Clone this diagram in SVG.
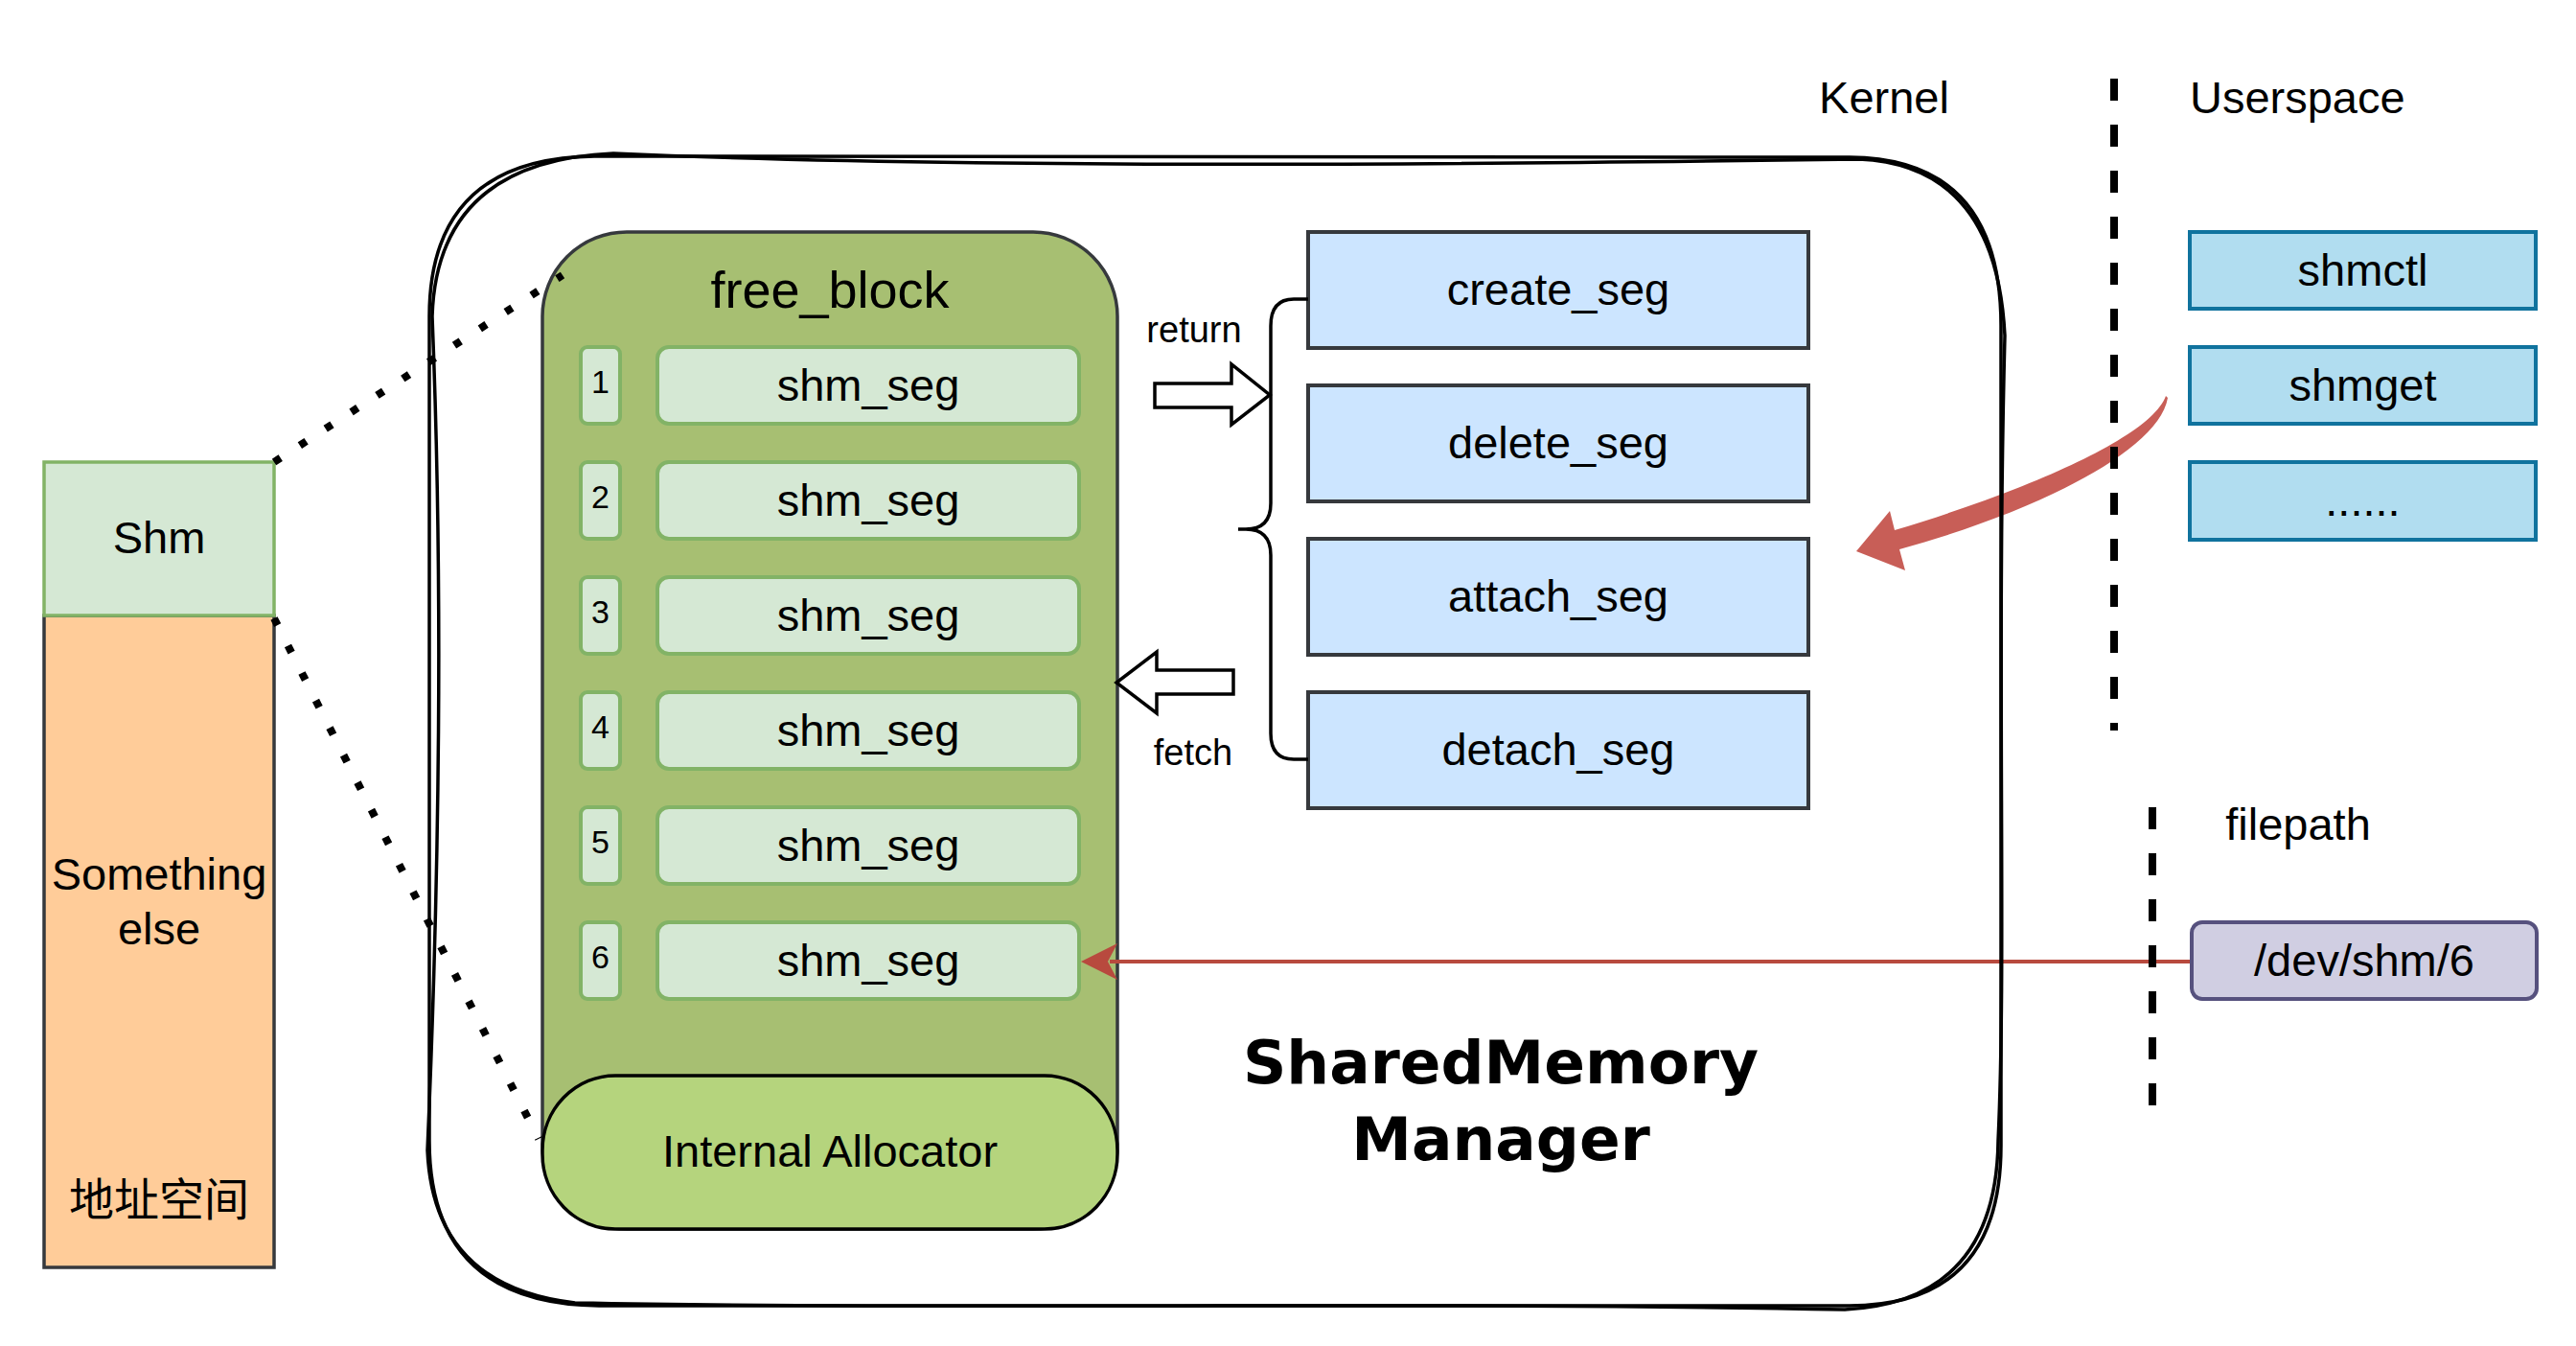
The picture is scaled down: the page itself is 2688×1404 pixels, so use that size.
<svg xmlns="http://www.w3.org/2000/svg" width="2688" height="1404" viewBox="0 0 2688 1404">
<style>
text{font-family:"Liberation Sans",Arial,"Noto Sans CJK SC",sans-serif;fill:#000}
.t47{font-size:47px}
.t38{font-size:38px}
.c{text-anchor:middle}
.seg{fill:#d5e8d4;stroke:#82b366;stroke-width:4}
.kbox{fill:#cce5ff;stroke:#36393d;stroke-width:4}
.ubox{fill:#b1ddf0;stroke:#10739e;stroke-width:4}
.sketch{fill:none;stroke:#000;stroke-width:3.5;stroke-linejoin:round}
.dots{fill:none;stroke:#000;stroke-width:8;stroke-dasharray:8 24}
.dash{fill:none;stroke:#000;stroke-width:8;stroke-dasharray:23 25}
.hollow{fill:#fff;stroke:#000;stroke-width:3.5;stroke-linejoin:miter}
</style>
<rect width="2688" height="1404" fill="#fff"/>

<g id="connectors-under">
  <path id="red-curve" d="M2260,413 C2245,455 2120,510 1977,553 L1972,533 L1937,575 L1988,595 L1982,573 C2120,535 2252,472 2262,415 Z" fill="#c85e57"/>
</g>

<g id="address-space">
  <rect x="46" y="642" width="240" height="680" fill="#ffcc99" stroke="#36393d" stroke-width="3.5"/>
  <text x="166" y="928" class="t47 c">Something</text>
  <text x="166" y="985" class="t47 c">else</text>
  <text x="166" y="1268" class="t47 c">地址空间</text>
</g>
<g id="shm">
  <rect x="46" y="482" width="240" height="160" fill="#d5e8d4" stroke="#82b366" stroke-width="3.5"/>
  <text x="166" y="577" class="t47 c">Shm</text>
</g>

<g id="free_block">
  <rect x="566" y="242" width="600" height="1040" rx="88" ry="88" fill="#a7bf72" stroke="#36393d" stroke-width="3.5"/>
  <text x="866" y="321" class="c" style="font-size:54px">free_block</text>
</g>

<g id="segments">
  <g id="seg1"><rect class="seg" x="606" y="362" width="41" height="80" rx="7"/><text x="626.5" y="410" class="c" style="font-size:34px">1</text><rect class="seg" x="686" y="362" width="440" height="80" rx="12"/><text x="906" y="418" class="t47 c">shm_seg</text></g>
  <g id="seg2"><rect class="seg" x="606" y="482" width="41" height="80" rx="7"/><text x="626.5" y="530" class="c" style="font-size:34px">2</text><rect class="seg" x="686" y="482" width="440" height="80" rx="12"/><text x="906" y="538" class="t47 c">shm_seg</text></g>
  <g id="seg3"><rect class="seg" x="606" y="602" width="41" height="80" rx="7"/><text x="626.5" y="650" class="c" style="font-size:34px">3</text><rect class="seg" x="686" y="602" width="440" height="80" rx="12"/><text x="906" y="658" class="t47 c">shm_seg</text></g>
  <g id="seg4"><rect class="seg" x="606" y="722" width="41" height="80" rx="7"/><text x="626.5" y="770" class="c" style="font-size:34px">4</text><rect class="seg" x="686" y="722" width="440" height="80" rx="12"/><text x="906" y="778" class="t47 c">shm_seg</text></g>
  <g id="seg5"><rect class="seg" x="606" y="842" width="41" height="80" rx="7"/><text x="626.5" y="890" class="c" style="font-size:34px">5</text><rect class="seg" x="686" y="842" width="440" height="80" rx="12"/><text x="906" y="898" class="t47 c">shm_seg</text></g>
  <g id="seg6"><rect class="seg" x="606" y="962" width="41" height="80" rx="7"/><text x="626.5" y="1010" class="c" style="font-size:34px">6</text><rect class="seg" x="686" y="962" width="440" height="80" rx="12"/><text x="906" y="1018" class="t47 c">shm_seg</text></g>
</g>

<g id="allocator">
  <rect x="566" y="1122" width="600" height="160" rx="76" ry="78" fill="#b5d47d" stroke="#000" stroke-width="3.5"/>
  <text x="866" y="1217" class="t47 c">Internal Allocator</text>
</g>

<g id="red-link">
  <line x1="2287" y1="1003" x2="1158" y2="1003" stroke="#b84a3e" stroke-width="4"/>
  <path d="M1128,1003 L1166,984 L1156,1003 L1166,1022 Z" fill="#b84a3e"/>
</g>

<g id="manager">
  <path class="sketch" d="M620,163 L1930,164 Q2088,165 2088,340 L2088,1195 Q2088,1362 1930,1362 L625,1362 Q448,1360 448,1190 L448,330 Q448,165 620,163 Z"/>
  <path class="sketch" d="M640,160 C1000,176 1500,172 1940,166 Q2083,172 2092,350 C2083,700 2094,1000 2085,1190 Q2083,1358 1925,1366 C1500,1357 1000,1367 600,1359 Q452,1342 446,1200 C459,900 462,600 451,330 Q456,168 640,160 Z"/>
  <text x="1566" y="1130" class="c" style="font-family:'DejaVu Sans',sans-serif;font-weight:bold;font-size:63px">SharedMemory</text>
  <text x="1566" y="1210" class="c" style="font-family:'DejaVu Sans',sans-serif;font-weight:bold;font-size:63px">Manager</text>
</g>

<g id="kernel-ops">
  <g id="create_seg"><rect class="kbox" x="1365" y="242" width="522" height="121"/><text x="1626" y="318" class="t47 c">create_seg</text></g>
  <g id="delete_seg"><rect class="kbox" x="1365" y="402" width="522" height="121"/><text x="1626" y="478" class="t47 c">delete_seg</text></g>
  <g id="attach_seg"><rect class="kbox" x="1365" y="562" width="522" height="121"/><text x="1626" y="638" class="t47 c">attach_seg</text></g>
  <g id="detach_seg"><rect class="kbox" x="1365" y="722" width="522" height="121"/><text x="1626" y="798" class="t47 c">detach_seg</text></g>
  <path id="brace" d="M1365,312 H1350 Q1326,312 1326,340 V525 Q1326,552 1300,552 H1292 M1300,552 Q1326,552 1326,579 V765 Q1326,792 1350,792 H1365" fill="none" stroke="#000" stroke-width="3.5"/>
</g>

<g id="userspace">
  <g id="shmctl"><rect class="ubox" x="2285" y="242" width="361" height="80"/><text x="2465.5" y="298" class="t47 c">shmctl</text></g>
  <g id="shmget"><rect class="ubox" x="2285" y="362" width="361" height="80"/><text x="2465.5" y="418" class="t47 c">shmget</text></g>
  <g id="more"><rect class="ubox" x="2285" y="482" width="361" height="81"/><text x="2465.5" y="538" class="t47 c">......</text></g>
  <g id="devshm"><rect x="2287" y="962" width="360" height="80" rx="11" fill="#d0cee2" stroke="#56517e" stroke-width="4"/><text x="2467" y="1018" class="t47 c">/dev/shm/6</text></g>
</g>

<g id="labels">
  <text x="1966" y="118" class="t47 c">Kernel</text>
  <text x="2285" y="118" class="t47">Userspace</text>
  <text x="2398" y="876" class="t47 c">filepath</text>
  <text x="1246" y="357" class="t38 c">return</text>
  <text x="1245" y="798" class="t38 c">fetch</text>
</g>

<g id="connectors">
  <line class="dash" x1="2206" y1="82" x2="2206" y2="762"/>
  <line class="dash" x1="2246" y1="842" x2="2246" y2="1154"/>
  <line class="dots" x1="286" y1="482" x2="587" y2="287"/>
  <line class="dots" x1="286" y1="645" x2="562" y2="1188"/>
  <polygon class="hollow" points="1205,400 1285,400 1285,380 1325,412 1285,443 1285,425 1205,425"/>
  <polygon class="hollow" points="1287,699 1207,699 1207,680 1165,712 1207,744 1207,724 1287,724"/>
</g>
</svg>
